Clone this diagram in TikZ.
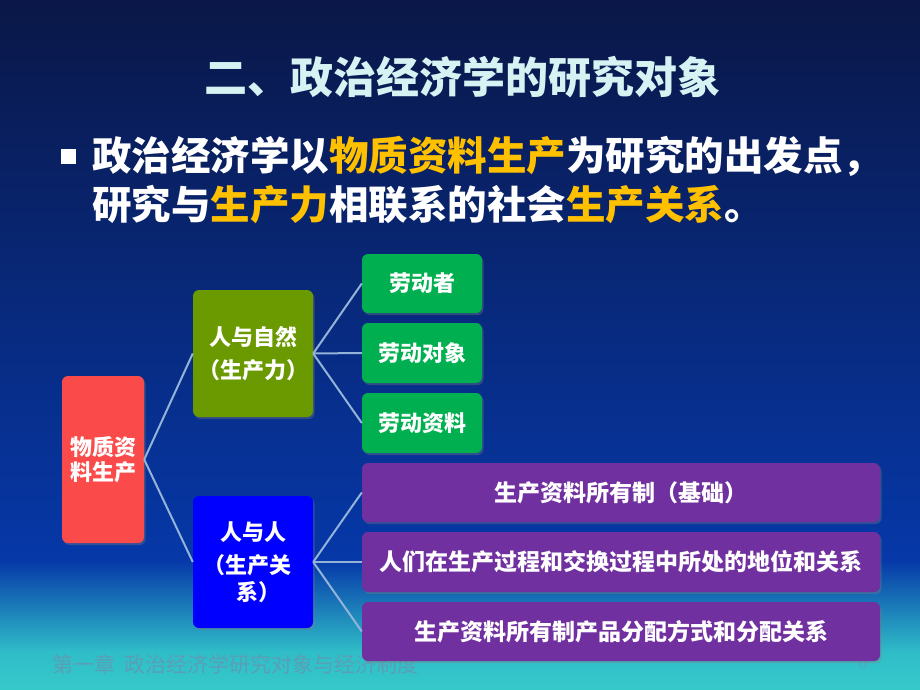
\documentclass[tikz,border=0pt]{standalone}
\usepackage{fontspec}
\usetikzlibrary{shadows}
\newfontfamily\cjk{Noto Sans CJK SC}
\newfontfamily\cjkh{Noto Sans CJK SC}[RawFeature=+halt]
\definecolor{bgtop}{HTML}{0A1747}
\definecolor{bgmid}{HTML}{0638A8}
\definecolor{bgteal}{HTML}{2FBDC8}
\definecolor{bgbot}{HTML}{36C9CA}
\definecolor{titlec}{HTML}{D6F2F2}
\definecolor{hl}{HTML}{FFC000}
\definecolor{redbox}{HTML}{FA4A4A}
\definecolor{olivebox}{HTML}{6A9A00}
\definecolor{bluebox}{HTML}{0000FF}
\definecolor{greenbox}{HTML}{00B050}
\definecolor{purplebox}{HTML}{7030A0}
\definecolor{connc}{HTML}{93B4D8}
\definecolor{footc}{HTML}{5A9FB6}
\tikzset{
  box/.style={rounded corners=6pt, inner sep=0pt, text=white, align=center,
    font=\cjkh\bfseries\fontsize{22}{33}\selectfont,
    drop shadow={opacity=0.35, shadow xshift=1.5pt, shadow yshift=-2pt}},
  pbox/.style={box, fill=purplebox, minimum width=518pt, font=\cjk\bfseries\fontsize{23}{26}\selectfont},
  gbox/.style={box, fill=greenbox, minimum width=120pt},
  conn/.style={draw=connc, line width=2pt},
  bodytext/.style={anchor=west, text=white, font=\cjk\bfseries\fontsize{39.5}{44}\selectfont, inner sep=0pt},
}
\begin{document}
\begin{tikzpicture}[x=1pt,y=-1pt]
\useasboundingbox (0,0) rectangle (920,690);
\shade[top color=bgtop, bottom color=bgmid] (0,0) rectangle (920,560);
\shade[top color=bgmid, bottom color=bgteal] (0,560) rectangle (920,652);
\shade[top color=bgteal, bottom color=bgbot] (0,652) rectangle (920,690);

\node[text=titlec, font=\cjk\bfseries\fontsize{43}{46}\selectfont, inner sep=0pt] (title) at (462,77) {二、政治经济学的研究对象};

\node[fill=white, minimum size=15pt, inner sep=0pt] (bul) at (68,156) {};
\node[bodytext] (l1) at (92,156)
  {政治经济学以\textcolor{hl}{物质资料生产}为研究的出发点，};
\node[bodytext] (l2) at (92,205)
  {研究与\textcolor{hl}{生产力}相联系的社会\textcolor{hl}{生产关系}。};

\node[anchor=west, text=footc, font=\cjk\fontsize{21}{24}\selectfont, inner sep=0pt] (foot) at (52,664) {第一章\ \ 政治经济学研究对象与经济制度};
\node[text=footc, font=\fontsize{21}{24}\selectfont, inner sep=0pt] (pg) at (863,662) {6};

\node[box, fill=redbox, minimum width=82pt, minimum height=167pt, font=\cjkh\bfseries\fontsize{22}{25}\selectfont] (mat) at (103,459.5) {物质资\\料生产};
\node[box, fill=olivebox, minimum width=120pt, minimum height=127pt] (nat) at (253,353.5) {人与自然\\（生产力）};
\node[box, fill=bluebox, minimum width=120pt, minimum height=132pt, font=\cjkh\bfseries\fontsize{22}{27}\selectfont] (ppl) at (253,562) {人与人\\[6pt]（生产关\\系）};

\node[gbox, minimum height=59pt] (g1) at (422,283.5) {劳动者};
\node[gbox, minimum height=60pt] (g2) at (422,353) {劳动对象};
\node[gbox, minimum height=60pt] (g3) at (422,423) {劳动资料};

\node[pbox, minimum height=59pt] (p1) at (621,492.5) {生产资料所有制（基础）};
\node[pbox, minimum height=60pt] (p2) at (621,562) {人们在生产过程和交换过程中所处的地位和关系};
\node[pbox, minimum height=59pt] (p3) at (621,631.5) {生产资料所有制产品分配方式和分配关系};

\draw[conn] (mat.east) -- (nat.west);
\draw[conn] (mat.east) -- (ppl.west);
\draw[conn] (nat.east) -- (g1.west);
\draw[conn] (nat.east) -- (g2.west);
\draw[conn] (nat.east) -- (g3.west);
\draw[conn] (ppl.east) -- (p1.west);
\draw[conn] (ppl.east) -- (p2.west);
\draw[conn] (ppl.east) -- (p3.west);
\end{tikzpicture}
\end{document}
